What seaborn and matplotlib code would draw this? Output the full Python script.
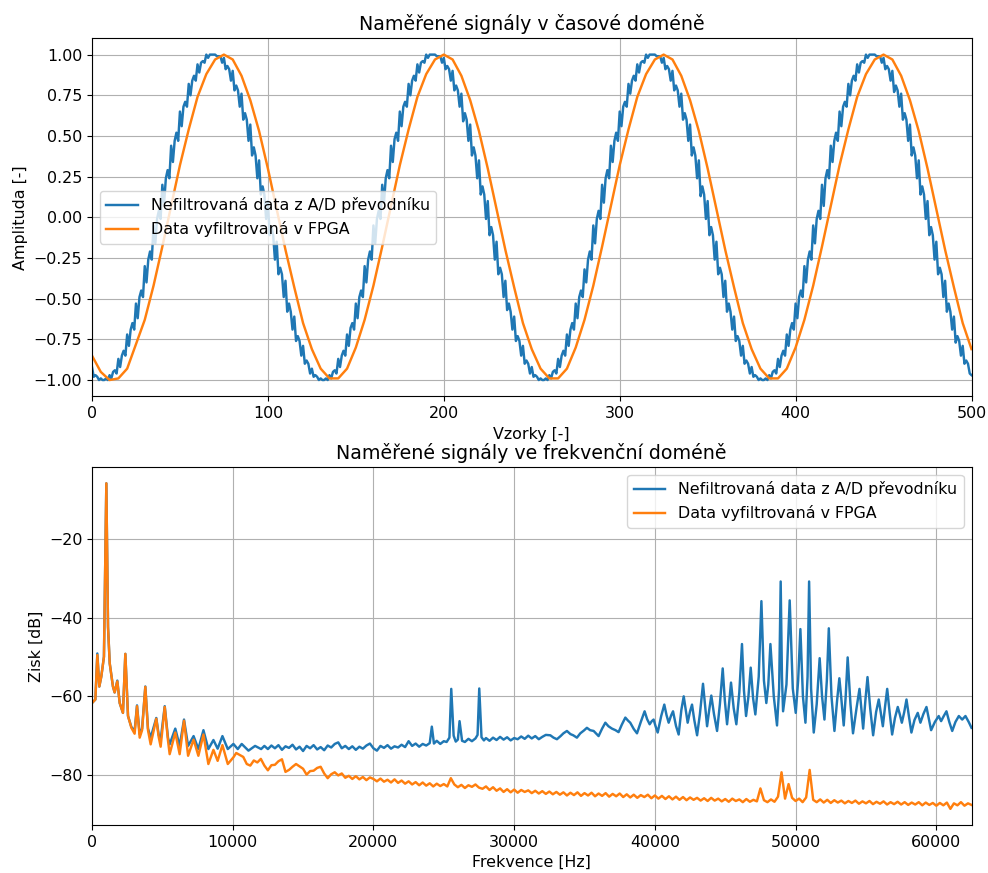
"""Measured A/D signal vs. FPGA filtered signal: time domain and spectrum."""

import numpy as np
import matplotlib
matplotlib.use("Agg")
import matplotlib.pyplot as plt
import seaborn as sns

LABEL_RAW = "Nefiltrovaná data z A/D převodníku"
LABEL_FPGA = "Data vyfiltrovaná v FPGA"

# ---------------------------------------------------------------------------
# Time domain
# ---------------------------------------------------------------------------

raw_samples = np.arange(501)
raw_amp = [
    # period 1
    -0.92, -0.98, -0.97, -0.98, -1.00, -0.99, -1.00, -1.00, -0.99, -1.00,
    -0.97, -0.99, -0.95, -0.94, -0.96, -0.87, -0.92, -0.85, -0.82, -0.85,
    -0.72, -0.79, -0.69, -0.65, -0.69, -0.53, -0.62, -0.49, -0.45, -0.49,
    -0.30, -0.40, -0.26, -0.21, -0.26, -0.05, -0.16, -0.01, 0.04, -0.01,
    0.20, 0.09, 0.24, 0.29, 0.24, 0.44, 0.34, 0.47, 0.52, 0.47,
    0.65, 0.56, 0.68, 0.71, 0.68, 0.82, 0.75, 0.84, 0.87, 0.84,
    0.94, 0.89, 0.95, 0.96, 0.95, 1.00, 0.98, 1.00, 1.00, 1.00,
    1.00, 0.99, 0.99, 0.99, 0.95, 0.98, 0.91, 0.93, 0.91, 0.84,
    0.90, 0.78, 0.81, 0.78, 0.68, 0.76, 0.60, 0.64, 0.60, 0.47,
    0.57, 0.38, 0.43, 0.38, 0.24, 0.35, 0.14, 0.19, 0.14, -0.01,
    0.10, -0.11, -0.06, -0.11, -0.26, -0.15, -0.35, -0.31, -0.35, -0.49,
    -0.39, -0.58, -0.53, -0.58, -0.69, -0.61, -0.76, -0.73, -0.76, -0.85,
    -0.79, -0.90, -0.88, -0.90, -0.96,
    # period 2
    -0.93, -0.98, -0.97, -0.98, -1.00, -0.99, -1.00, -1.00, -0.99, -1.00,
    -0.97, -0.99, -0.95, -0.94, -0.96, -0.87, -0.92, -0.85, -0.82, -0.85,
    -0.72, -0.79, -0.68, -0.65, -0.69, -0.53, -0.62, -0.49, -0.45, -0.49,
    -0.30, -0.40, -0.26, -0.21, -0.26, -0.05, -0.16, -0.01, 0.04, -0.01,
    0.20, 0.09, 0.24, 0.29, 0.24, 0.44, 0.34, 0.48, 0.52, 0.47,
    0.65, 0.56, 0.68, 0.71, 0.68, 0.82, 0.75, 0.84, 0.87, 0.84,
    0.94, 0.89, 0.95, 0.96, 0.95, 1.00, 0.98, 1.00, 1.00, 1.00,
    1.00, 0.99, 0.99, 0.99, 0.95, 0.98, 0.91, 0.93, 0.91, 0.84,
    0.90, 0.78, 0.81, 0.78, 0.68, 0.76, 0.59, 0.64, 0.60, 0.47,
    0.57, 0.38, 0.43, 0.38, 0.24, 0.35, 0.14, 0.19, 0.14, -0.01,
    0.10, -0.11, -0.06, -0.11, -0.26, -0.15, -0.35, -0.31, -0.35, -0.49,
    -0.39, -0.57, -0.53, -0.58, -0.69, -0.61, -0.76, -0.73, -0.76, -0.85,
    -0.79, -0.90, -0.88, -0.90, -0.96,
    # period 3
    -0.92, -0.98, -0.97, -0.98, -1.00, -0.99, -1.00, -1.00, -0.99, -1.00,
    -0.97, -0.99, -0.95, -0.94, -0.96, -0.87, -0.92, -0.85, -0.82, -0.85,
    -0.72, -0.79, -0.69, -0.65, -0.69, -0.53, -0.62, -0.49, -0.45, -0.49,
    -0.32, -0.40, -0.26, -0.21, -0.26, -0.05, -0.16, -0.01, 0.04, -0.01,
    0.20, 0.09, 0.24, 0.29, 0.24, 0.44, 0.34, 0.47, 0.52, 0.47,
    0.65, 0.56, 0.68, 0.71, 0.68, 0.82, 0.76, 0.84, 0.87, 0.84,
    0.94, 0.89, 0.95, 0.96, 0.95, 1.00, 0.98, 1.00, 1.00, 1.00,
    1.00, 0.99, 0.99, 0.99, 0.95, 0.98, 0.91, 0.93, 0.91, 0.84,
    0.90, 0.78, 0.81, 0.78, 0.68, 0.76, 0.60, 0.64, 0.60, 0.47,
    0.57, 0.38, 0.43, 0.38, 0.24, 0.35, 0.13, 0.19, 0.14, -0.01,
    0.10, -0.11, -0.06, -0.11, -0.26, -0.15, -0.35, -0.31, -0.35, -0.49,
    -0.39, -0.58, -0.53, -0.58, -0.69, -0.61, -0.76, -0.73, -0.76, -0.85,
    -0.79, -0.90, -0.88, -0.90, -0.96,
    # period 4
    -0.92, -0.98, -0.97, -0.98, -1.00, -0.99, -1.00, -1.00, -0.99, -1.00,
    -0.97, -0.99, -0.95, -0.94, -0.96, -0.87, -0.92, -0.85, -0.82, -0.85,
    -0.72, -0.79, -0.69, -0.65, -0.69, -0.53, -0.62, -0.49, -0.45, -0.49,
    -0.30, -0.40, -0.26, -0.21, -0.26, -0.05, -0.16, -0.01, 0.04, -0.01,
    0.20, 0.07, 0.24, 0.29, 0.24, 0.44, 0.34, 0.47, 0.52, 0.47,
    0.65, 0.56, 0.68, 0.71, 0.68, 0.82, 0.75, 0.84, 0.87, 0.84,
    0.94, 0.89, 0.95, 0.96, 0.95, 1.00, 0.98, 1.00, 1.00, 1.00,
    1.00, 0.99, 0.99, 0.99, 0.95, 0.98, 0.91, 0.93, 0.91, 0.84,
    0.90, 0.77, 0.81, 0.78, 0.68, 0.76, 0.60, 0.64, 0.60, 0.47,
    0.57, 0.38, 0.43, 0.38, 0.24, 0.35, 0.14, 0.19, 0.14, -0.01,
    0.10, -0.11, -0.06, -0.11, -0.26, -0.15, -0.35, -0.31, -0.35, -0.49,
    -0.39, -0.58, -0.53, -0.58, -0.69, -0.61, -0.77, -0.73, -0.76, -0.85,
    -0.79, -0.90, -0.88, -0.90, -0.96,
    -0.97,
]

fpga_samples = np.arange(0, 501, 5)
fpga_amp = [
    -0.85, -0.95, -1.00, -0.99, -0.93, -0.78, -0.63, -0.42, -0.18, 0.07,
    0.32, 0.54, 0.74, 0.88, 0.97, 1.00, 0.97, 0.87, 0.72, 0.53,
    0.30, 0.05, -0.20, -0.43, -0.65,
    -0.81, -0.93, -0.99, -0.99, -0.93, -0.80, -0.63, -0.42, -0.18, 0.07,
    0.32, 0.54, 0.74, 0.88, 0.97, 1.00, 0.97, 0.87, 0.72, 0.53,
    0.30, 0.05, -0.20, -0.43, -0.65,
    -0.81, -0.93, -0.99, -0.99, -0.93, -0.80, -0.63, -0.42, -0.18, 0.07,
    0.32, 0.54, 0.74, 0.88, 0.97, 1.00, 0.97, 0.87, 0.72, 0.53,
    0.30, 0.05, -0.20, -0.43, -0.65,
    -0.81, -0.93, -0.99, -0.99, -0.93, -0.80, -0.63, -0.42, -0.18, 0.07,
    0.32, 0.54, 0.74, 0.88, 0.97, 1.00, 0.97, 0.87, 0.72, 0.53,
    0.30, 0.05, -0.20, -0.43, -0.65,
    -0.81,
]

# ---------------------------------------------------------------------------
# Frequency domain
# ---------------------------------------------------------------------------

# 0 - 12 kHz: fundamental and its leakage peaks
low_hz = [
    0, 240, 380, 520, 660, 850, 1020, 1140, 1260, 1490,
    1610, 1800, 1970, 2200, 2370, 2560, 2800, 3030, 3200, 3390,
    3560, 3790, 3980, 4170, 4570, 4740, 4880, 5170, 5400, 5520,
    5920, 6230, 6540, 6830, 7220, 7560, 7920, 8270, 8630, 8930,
    9270, 9650, 10050, 10360, 10640, 11120, 11590, 12020,
]
raw_low_db = [
    -61.7, -60.8, -49.1, -57.5, -55.0, -49.9, -5.85, -42.4, -51.6, -57.5,
    -59.0, -56.0, -61.7, -64.2, -49.2, -65.0, -67.8, -68.8, -62.3, -69.6,
    -68.2, -57.5, -68.2, -70.5, -65.5, -69.8, -71.0, -62.5, -70.5, -72.2,
    -68.2, -72.6, -65.9, -72.6, -70.1, -73.4, -68.6, -73.4, -71.1, -73.3,
    -70.1, -73.4, -72.1, -73.4, -72.1, -73.8, -72.6, -73.4,
]
fpga_low_db = [
    -61.7, -60.8, -49.5, -57.5, -55.0, -50.0, -5.85, -42.4, -51.6, -57.5,
    -59.0, -56.2, -61.7, -64.2, -49.2, -65.0, -68.0, -69.5, -62.5, -70.5,
    -68.6, -57.6, -68.6, -72.2, -65.7, -70.3, -72.8, -62.7, -71.2, -74.7,
    -69.2, -74.7, -66.2, -75.1, -71.0, -75.1, -69.7, -77.2, -73.6, -76.4,
    -72.4, -77.2, -75.5,
]

# unfiltered noise floor 12.25 - 24 kHz, 250 Hz bins
raw_floor_hz = np.arange(12250, 24001, 250)
raw_floor_db = [
    -72.6, -73.4, -72.5, -73.2, -72.4, -73.6, -72.7, -73.1,
    -72.3, -73.5, -72.8, -73.9, -72.6, -73.2, -72.4, -73.5,
    -72.9, -73.7, -72.5, -73.0, -72.1, -71.7, -73.2, -72.6,
    -73.4, -72.7, -73.6, -72.8, -73.3, -72.5, -72.0, -73.2,
    -73.8, -72.6, -73.1, -72.4, -73.3, -72.7, -73.0, -72.3,
    -72.9, -71.4, -72.6, -72.0, -72.8, -72.1, -72.5, -71.9,
]

# unfiltered 24 - 62.5 kHz: spurs around 25 kHz and 50 kHz
raw_high_hz = [
    24150, 24300, 24500, 24750, 25000, 25200, 25400, 25530, 25700, 25850,
    26000, 26120, 26300, 26500, 26750, 27000, 27250, 27400, 27520, 27680,
    27850, 28000, 28250, 28500, 28750, 29000, 29250, 29500, 29750, 30000,
    30250, 30500, 30750, 31000, 31250, 31500, 31750, 32000, 32250, 32570,
    32800, 33040, 33300, 33500, 33750, 34000, 34200, 34460, 34700, 34950,
    35170, 35400, 35650, 36000, 36250, 36480, 36700, 36950, 37200, 37420,
    37650, 37900, 38100, 38250, 38500, 38730, 39000, 39270, 39450, 39630,
    39780, 39910, 40050, 40200, 40450, 40670, 40830, 40980, 41150, 41290,
    41500, 41690, 41880, 42050, 42200, 42330, 42500, 42640, 42800, 43000,
    43200, 43420, 43570, 43710, 43860, 44010, 44200, 44420, 44620, 44820,
    44970, 45130, 45270, 45410, 45600, 45790, 46000, 46190, 46330, 46480,
    46650, 46810, 46980, 47140, 47380, 47570, 47750, 47920, 48060, 48210,
    48450, 48680, 48830, 48940, 49030, 49110, 49350, 49580, 49800, 50010,
    50180, 50340, 50520, 50700, 50850, 50960, 51100, 51290, 51500, 51710,
    51880, 52050, 52220, 52360, 52550, 52760, 52950, 53110, 53260, 53420,
    53560, 53700, 53900, 54080, 54330, 54540, 54670, 54800, 54960, 55110,
    55300, 55510, 55720, 55910, 56050, 56200, 56360, 56510, 56680, 56860,
    57060, 57260, 57400, 57550, 57720, 57880, 58050, 58230, 58450, 58680,
    58780, 58870, 59080, 59300, 59460, 59630, 59900, 60170, 60340, 60530,
    60720, 60920, 61130, 61360, 61600, 61840, 62070, 62300, 62500,
]
raw_high_db = [
    -67.7, -72.0, -71.3, -72.1, -71.4, -71.6, -70.5, -58.1, -70.0, -71.5,
    -71.0, -66.3, -71.3, -71.6, -70.8, -71.4, -70.7, -69.8, -58.0, -70.4,
    -71.2, -70.6, -71.3, -70.5, -71.1, -70.3, -71.0, -70.4, -71.2, -70.6,
    -70.9, -70.2, -70.8, -70.0, -70.7, -70.1, -70.9, -70.3, -69.8, -69.9,
    -70.5, -70.9, -70.1, -69.4, -68.8, -69.6, -69.9, -70.5, -69.4, -68.7,
    -68.0, -68.6, -68.8, -70.1, -68.2, -66.7, -67.6, -68.2, -68.6, -69.1,
    -67.2, -65.4, -66.2, -66.7, -68.3, -69.4, -66.5, -63.8, -65.8, -67.1,
    -66.3, -65.9, -67.6, -69.2, -65.0, -62.1, -64.8, -66.7, -64.9, -63.8,
    -67.5, -69.7, -63.5, -60.0, -63.5, -66.7, -63.8, -62.1, -66.0, -69.9,
    -64.5, -56.8, -62.5, -67.6, -63.5, -59.8, -64.5, -68.8, -62.0, -52.9,
    -61.0, -67.1, -62.0, -56.5, -63.0, -67.1, -59.0, -46.7, -58.5, -65.0,
    -60.0, -52.7, -60.5, -64.6, -55.0, -35.8, -56.0, -61.7, -57.0, -46.7,
    -60.0, -67.4, -58.0, -30.8, -55.0, -63.8, -57.0, -35.6, -58.0, -64.2,
    -56.0, -42.9, -60.0, -66.7, -55.0, -30.8, -58.0, -69.2, -62.0, -50.3,
    -60.0, -65.9, -56.0, -42.7, -60.0, -68.8, -61.0, -55.4, -61.0, -67.4,
    -60.0, -50.1, -62.0, -69.4, -63.0, -58.1, -63.0, -68.2, -61.0, -55.1,
    -63.0, -69.9, -64.0, -60.8, -64.0, -67.6, -62.5, -58.1, -64.0, -69.7,
    -65.5, -62.7, -64.5, -66.7, -64.0, -60.8, -65.0, -69.2, -66.0, -64.2,
    -65.5, -66.7, -64.5, -62.7, -65.5, -68.6, -66.5, -65.0, -66.3, -65.0,
    -63.8, -66.5, -68.8, -66.5, -65.0, -65.9, -65.0, -66.5, -68.0,
]

# filtered noise floor 10.25 - 62.5 kHz, 250 Hz bins
fpga_floor_hz = np.arange(10250, 62501, 250)
fpga_floor_db = [
    -74.4, -74.9, -75.4, -77.2, -77.6, -76.3, -76.8, -75.9,
    -77.6, -78.8, -77.5, -77.4, -76.5, -76.0, -79.2, -78.7,
    -77.9, -77.2, -77.8, -78.4, -79.9, -79.0, -78.9, -78.2,
    -77.9, -79.6, -80.8, -79.8, -79.3, -80.1, -79.6, -80.7,
    -80.2, -81.0, -80.3, -81.1, -80.5, -81.3, -80.6, -81.0,
    -81.6, -80.9, -81.7, -81.2, -81.9, -81.1, -82.0, -81.4,
    -82.2, -81.6, -82.4, -81.8, -82.6, -81.9, -82.7, -82.1,
    -82.9, -82.2, -82.8, -82.3, -82.9, -80.8, -82.4, -83.1,
    -82.5, -83.3, -82.6, -83.0, -82.4, -83.2, -83.5, -82.9,
    -83.8, -83.1, -84.0, -83.4, -84.3, -83.6, -84.4, -83.7,
    -84.5, -83.8, -84.3, -83.9, -84.6, -84.0, -84.7, -84.1,
    -84.8, -84.2, -84.9, -84.3, -85.0, -84.4, -85.2, -84.5,
    -85.1, -84.4, -85.3, -84.6, -85.2, -84.5, -85.4, -84.7,
    -85.3, -84.6, -85.5, -84.8, -85.4, -84.7, -85.6, -84.9,
    -85.7, -85.0, -85.8, -85.1, -85.6, -85.0, -85.9, -85.2,
    -86.0, -85.3, -86.1, -85.4, -86.2, -85.5, -86.3, -85.6,
    -86.4, -85.7, -86.3, -85.8, -86.5, -85.9, -86.6, -85.8,
    -86.5, -86.0, -86.7, -86.1, -86.8, -86.0, -86.6, -86.2,
    -86.9, -86.1, -86.8, -86.3, -86.7, -83.4, -86.4, -86.9,
    -86.2, -86.8, -85.5, -79.3, -86.0, -82.3, -85.8, -86.6,
    -86.0, -86.9, -85.7, -78.7, -86.3, -86.9, -86.2, -87.0,
    -86.3, -87.1, -86.4, -87.0, -86.5, -87.2, -86.6, -87.1,
    -86.5, -87.3, -86.7, -87.2, -86.6, -87.4, -86.8, -87.3,
    -86.7, -87.5, -86.9, -87.4, -86.8, -87.5, -86.9, -87.6,
    -87.0, -87.5, -86.9, -87.7, -87.0, -87.6, -87.1, -87.8,
    -87.1, -87.7, -87.0, -88.6, -87.2, -87.7, -86.9, -87.8,
    -87.2, -87.6,
]

raw_hz = np.concatenate([low_hz, raw_floor_hz, raw_high_hz])
raw_db = np.concatenate([raw_low_db, raw_floor_db, raw_high_db])
fpga_hz = np.concatenate([low_hz[:len(fpga_low_db)], fpga_floor_hz])
fpga_db = np.concatenate([fpga_low_db, fpga_floor_db])

# ---------------------------------------------------------------------------
# Figure
# ---------------------------------------------------------------------------

plt.rcParams["font.size"] = 11.4
plt.rcParams["lines.linewidth"] = 1.75

fig, (ax1, ax2) = plt.subplots(2, 1, figsize=(9.88, 8.73), dpi=100)
fig.subplots_adjust(left=0.0931, right=0.9833, top=0.9561, bottom=0.0550,
                    hspace=0.1975)

sns.lineplot(x=raw_samples, y=raw_amp, ax=ax1, color="C0", label=LABEL_RAW,
             estimator=None, sort=False)
sns.lineplot(x=fpga_samples, y=fpga_amp, ax=ax1, color="C1", label=LABEL_FPGA,
             estimator=None, sort=False)
ax1.set_xlim(0, 500)
ax1.set_ylim(-1.1, 1.1)
ax1.set_title("Naměřené signály v časové doméně")
ax1.set_xlabel("Vzorky [-]")
ax1.set_ylabel("Amplituda [-]")
ax1.grid(True)
ax1.legend(loc="center left")

sns.lineplot(x=raw_hz, y=raw_db, ax=ax2, color="C0", label=LABEL_RAW,
             estimator=None, sort=False)
sns.lineplot(x=fpga_hz, y=fpga_db, ax=ax2, color="C1", label=LABEL_FPGA,
             estimator=None, sort=False)
ax2.set_xlim(0, 62500)
ax2.set_ylim(-92.7, -1.7)
ax2.set_title("Naměřené signály ve frekvenční doméně")
ax2.set_xlabel("Frekvence [Hz]")
ax2.set_ylabel("Zisk [dB]")
ax2.grid(True)
ax2.legend(loc="upper right")

fig.savefig("out.png", dpi=100)
